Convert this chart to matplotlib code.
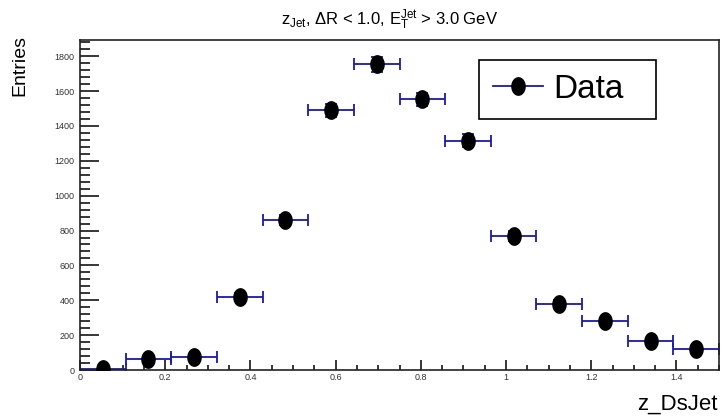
import numpy as np
import matplotlib.pyplot as plt
from matplotlib.path import Path
from matplotlib.ticker import MultipleLocator

# z_DsJet histogram, 14 bins between 0 and 1.5
bin_edges = np.linspace(0, 1.5, 15)
entries = [8, 65, 73, 421, 862, 1489, 1754, 1552, 1316, 767, 381, 283, 167, 121]

centers = 0.5 * (bin_edges[:-1] + bin_edges[1:])
half_width = 0.5 * np.diff(bin_edges)
yerr = np.sqrt(entries)

# marker ovale (piu alto che largo)
t = np.linspace(0, 2 * np.pi, 40)
oval = Path(np.column_stack([0.76 * np.cos(t), np.sin(t)]), closed=True)

plt.rcParams['font.family'] = ['Liberation Sans', 'DejaVu Sans']

fig = plt.figure(figsize=(7.22, 4.16), dpi=100)
ax = fig.add_axes([80 / 722, 46 / 416, 639 / 722, 330 / 416])

ax.errorbar(centers, entries, xerr=half_width, yerr=yerr, fmt='none',
            ecolor='#1a1aa6', elinewidth=1.3, capsize=4, capthick=1.3, zorder=2)
ax.plot(centers, entries, linestyle='none', marker=oval, markersize=12.5,
        color='black', zorder=3)

# handle per la legenda
hm, = ax.plot([-1], [-1], linestyle='-', color='#1a1aa6', marker=oval, markersize=12.5,
              markerfacecolor='black', markeredgecolor='black', lw=1.3)

ax.set_xlim(0, 1.5)
ax.set_ylim(0, 1893)

ax.xaxis.set_major_locator(MultipleLocator(0.2))
ax.xaxis.set_minor_locator(MultipleLocator(0.05))
ax.yaxis.set_major_locator(MultipleLocator(200))
ax.yaxis.set_minor_locator(MultipleLocator(40))
ax.xaxis.set_major_formatter(plt.FuncFormatter(lambda v, p: f'{v:g}'))

ax.tick_params(axis='both', which='both', direction='in', width=1.1,
               labelsize=6.5, labelcolor='#333333')
ax.tick_params(axis='x', which='major', length=7.5, pad=2.5)
ax.tick_params(axis='x', which='minor', length=3.8)
ax.tick_params(axis='y', which='major', length=14, pad=4)
ax.tick_params(axis='y', which='minor', length=7)
for s in ax.spines.values():
    s.set_linewidth(1.2)
    s.set_color('#222222')

fig.text(0.54, 1 - 25 / 416,
         r'$\mathregular{z_{Jet}}$, $\mathregular{\Delta}$R < 1.0, $\mathregular{E^{Jet}_{T}}$ > 3.0 GeV',
         ha='center', va='baseline', fontsize=12)
fig.text(20 / 722, 1 - 35 / 416, 'Entries', rotation=90, ha='center', va='top',
         fontsize=14)
fig.text(718 / 722, 1 - 410 / 416, 'z_DsJet', ha='right', va='baseline',
         fontsize=16)

leg = ax.legend([hm], ['Data'], loc='upper left',
                bbox_to_anchor=(399 / 639, 310 / 330, 177 / 639, 0), mode='expand',
                borderaxespad=0, fancybox=False, edgecolor='black', framealpha=1,
                handlelength=1.5, handletextpad=0.3, borderpad=0.42,
                prop={'size': 24})
leg.get_frame().set_linewidth(1.2)

fig.savefig('out.png', dpi=100)
